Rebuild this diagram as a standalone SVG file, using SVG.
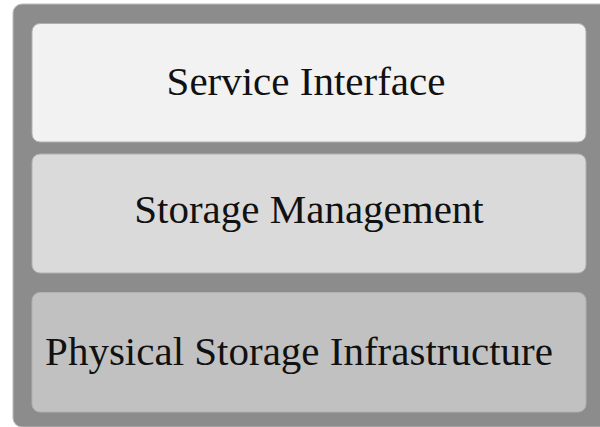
<svg xmlns="http://www.w3.org/2000/svg" width="600" height="427" viewBox="0 0 600 427">
<style>
.lbl{font-family:"Liberation Serif","Times New Roman",serif;font-size:41px;fill:#111;text-anchor:middle}
.box{stroke:#b0b0b0;stroke-width:1}
</style>
<rect x="0" y="0" width="600" height="427" fill="#ffffff"/>
<g id="container">
<rect x="13" y="4" width="600" height="423" rx="9" fill="#8c8c8c" stroke="#bdbdbd" stroke-width="1"/>
</g>
<g id="service-interface">
<rect class="box" x="32" y="23.5" width="554" height="118.5" rx="8" fill="#f2f2f2"/>
<text class="lbl" x="306" y="95">Service Interface</text>
</g>
<g id="storage-management">
<rect class="box" x="32" y="154" width="554" height="119" rx="8" fill="#dadada"/>
<text class="lbl" x="309" y="223">Storage Management</text>
</g>
<g id="physical-storage-infrastructure">
<rect class="box" x="32" y="292.5" width="554" height="119.5" rx="8" fill="#c1c1c1"/>
<text class="lbl" x="299" y="365">Physical Storage Infrastructure</text>
</g>
<g id="connectors"/>
</svg>
